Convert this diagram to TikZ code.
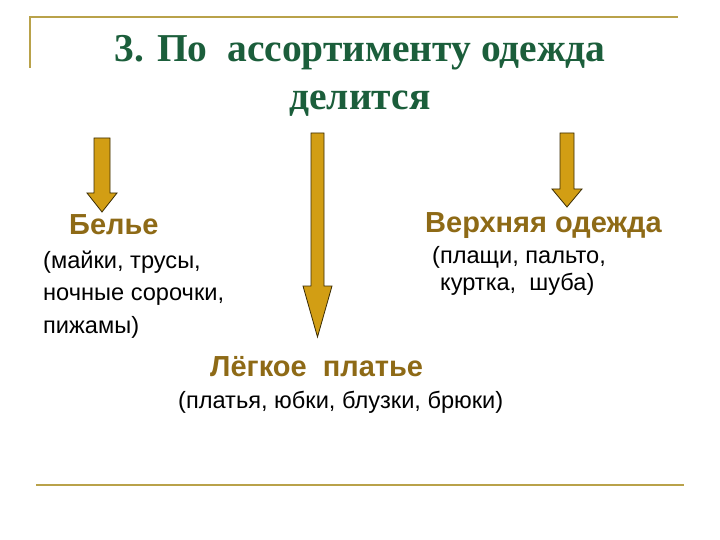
\documentclass[tikz,border=0pt]{standalone}
\usepackage{fontspec}
\setmainfont{Liberation Serif}
\newfontfamily\arialfont{Liberation Sans}
\definecolor{titlegreen}{HTML}{1B5E3B}
\definecolor{labelbrown}{HTML}{8E6A16}
\definecolor{rulegold}{HTML}{B9A24A}
\definecolor{arrowgold}{HTML}{D29E14}
\definecolor{arrowline}{HTML}{3A2C05}
\tikzset{
  titletext/.style={anchor=base, text=titlegreen, font=\fontsize{39.5}{46}\selectfont\bfseries, inner sep=0pt},
  labeltext/.style={anchor=base west, text=labelbrown, font=\arialfont\fontsize{29}{33}\selectfont\bfseries, inner sep=0pt},
  bodytext/.style={anchor=base west, text=black, font=\arialfont\fontsize{23.6}{27}\selectfont, inner sep=0pt},
  blockarrow/.style={fill=arrowgold, draw=arrowline, line width=0.8pt, line join=miter},
  goldrule/.style={draw=rulegold, line width=2pt}
}
\begin{document}
\begin{tikzpicture}[x=1pt,y=-1pt]
\useasboundingbox[fill=white] (0,0) rectangle (720,540);
% frame lines
\draw[goldrule] (30,68) -- (30,17.5) -- (678,17.5);
\draw[goldrule] (36,485) -- (684,485);
% title
\node[titletext] (t1) at (360,62) {3. По\ \ ассортименту одежда};
\node[titletext] (t2) at (360,110) {делится};
% arrows
\filldraw[blockarrow] (94,138) -- (110,138) -- (110,193) -- (117,193) -- (102,212) -- (87,193) -- (94,193) -- cycle;
\filldraw[blockarrow] (311,133) -- (324,133) -- (324,286) -- (332,286) -- (317.5,337) -- (303,286) -- (311,286) -- cycle;
\filldraw[blockarrow] (560,133) -- (574,133) -- (574,189) -- (582,189) -- (567,207) -- (552,189) -- (560,189) -- cycle;
% left group
\node[labeltext] (belie) at (69,234) {Белье};
\node[bodytext] (b1) at (43,268) {(майки, трусы,};
\node[bodytext] (b2) at (43,300) {ночные сорочки,};
\node[bodytext] (b3) at (43,333) {пижамы)};
% right group
\node[labeltext] (verh) at (425,233) {Верхняя одежда};
\node[bodytext] (v1) at (432,263) {(плащи, пальто,};
\node[bodytext] (v2) at (440,290) {куртка,\ \ шуба)};
% middle group
\node[labeltext] (legk) at (210,376) {Лёгкое\ \ платье};
\node[bodytext] (l1) at (178,408) {(платья, юбки, блузки, брюки)};
\end{tikzpicture}
\end{document}
